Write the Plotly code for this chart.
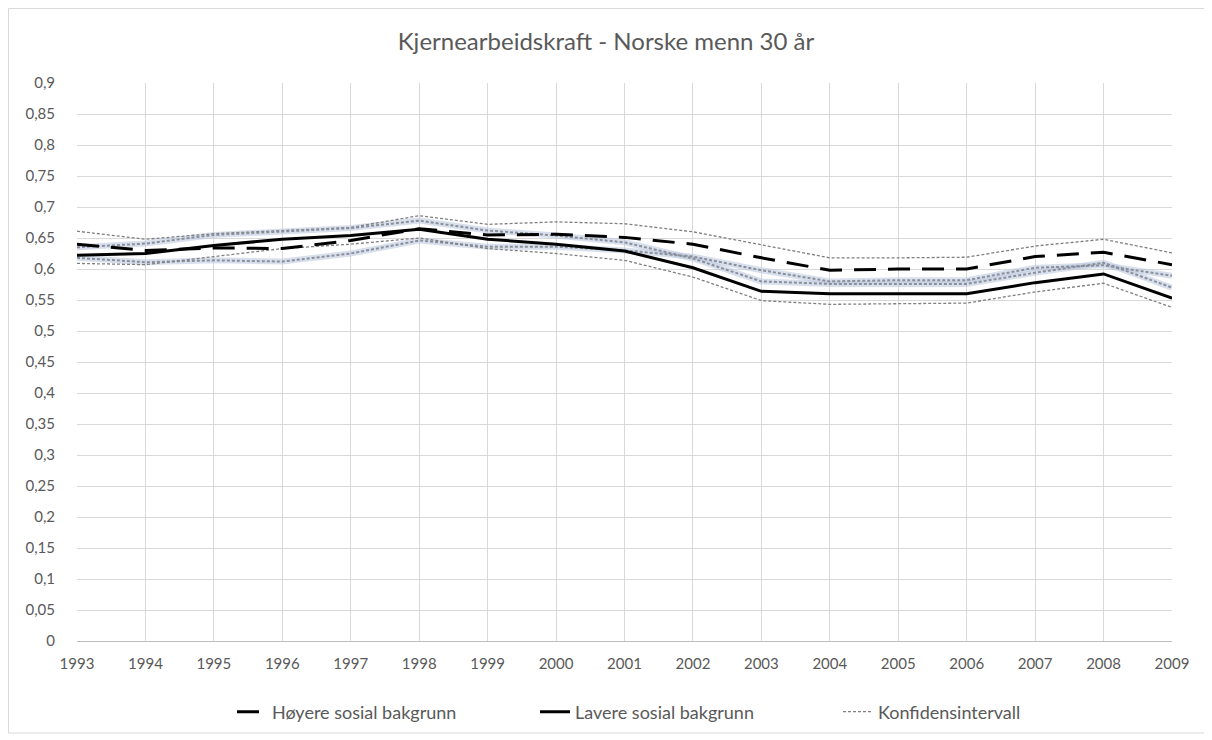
import plotly.graph_objects as go

years = [1993, 1994, 1995, 1996, 1997, 1998, 1999, 2000, 2001, 2002, 2003, 2004, 2005, 2006, 2007, 2008, 2009]
hoyere = [0.640, 0.630, 0.634, 0.633, 0.646, 0.665, 0.655, 0.656, 0.651, 0.640, 0.618, 0.598, 0.600, 0.600, 0.620, 0.627, 0.607]
lavere = [0.622, 0.625, 0.638, 0.648, 0.654, 0.664, 0.648, 0.640, 0.629, 0.602, 0.564, 0.560, 0.560, 0.560, 0.578, 0.592, 0.553]
hoyere_upper = [0.661, 0.648, 0.657, 0.662, 0.667, 0.686, 0.672, 0.676, 0.673, 0.660, 0.639, 0.618, 0.618, 0.619, 0.637, 0.648, 0.626]
hoyere_lower = [0.618, 0.611, 0.614, 0.612, 0.625, 0.646, 0.636, 0.636, 0.630, 0.620, 0.598, 0.580, 0.582, 0.582, 0.602, 0.606, 0.589]
lavere_upper = [0.635, 0.641, 0.655, 0.660, 0.666, 0.678, 0.662, 0.654, 0.643, 0.617, 0.580, 0.576, 0.576, 0.576, 0.594, 0.610, 0.570]
lavere_lower = [0.609, 0.607, 0.620, 0.633, 0.640, 0.650, 0.633, 0.625, 0.614, 0.587, 0.549, 0.543, 0.544, 0.545, 0.563, 0.577, 0.538]

y_tickvals = [0, 0.05, 0.1, 0.15, 0.2, 0.25, 0.3, 0.35, 0.4, 0.45, 0.5, 0.55, 0.6, 0.65, 0.7, 0.75, 0.8, 0.85, 0.9]
y_ticktext = ["0", "0,05", "0,1", "0,15", "0,2", "0,25", "0,3", "0,35", "0,4", "0,45", "0,5", "0,55", "0,6", "0,65", "0,7", "0,75", "0,8", "0,85", "0,9"]
x_ticktext = [str(y) for y in years]

title = "Kjernearbeidskraft - Norske menn 30 år"
name_h = "Høyere sosial bakgrunn"
name_l = "Lavere sosial bakgrunn"
name_ci = "Konfidensintervall"

FONT = "Lato"
TXT = "#595959"

# page is offset by the 8px body margin
W, H = 1204, 732
PL, PR, PT, PB = 77, 1172, 83, 641  # plot area in page pixels
OFF = 8


def px_to_paper_x(px):
    return (px - PL) / (PR - PL)


def px_to_paper_y(py):
    return (PB - py) / (PB - PT)


fig = go.Figure()

# soft glow beneath the inner CI lines
for ser in [hoyere_lower, lavere_upper]:
    fig.add_trace(go.Scatter(x=years, y=ser, mode="lines", showlegend=False, hoverinfo="skip",
                             line=dict(color="rgba(185,198,222,0.55)", width=6)))

ci_series = [hoyere_upper, hoyere_lower, lavere_upper, lavere_lower]
ci_widths = [1.3, 2.0, 2.0, 1.3]
ci_colors = ["#7f7f7f", "#8a8f99", "#8a8f99", "#7f7f7f"]
for i, ser in enumerate(ci_series):
    fig.add_trace(go.Scatter(x=years, y=ser, mode="lines", name=name_ci,
                             showlegend=False, legendgroup="ci",
                             line=dict(color=ci_colors[i], width=ci_widths[i], dash="3px,2px")))

fig.add_trace(go.Scatter(x=years, y=hoyere, mode="lines", name=name_h, legendrank=1,
                         line=dict(color="#000000", width=3, dash="22px,12px")))
fig.add_trace(go.Scatter(x=years, y=lavere, mode="lines", name=name_l, legendrank=2,
                         line=dict(color="#000000", width=3)))
fig.add_trace(go.Scatter(x=[None], y=[None], mode="lines", name=name_ci, legendrank=3,
                         line=dict(color="#7f7f7f", width=1.2, dash="3px,2px")))

fig.update_layout(
    width=W, height=H,
    paper_bgcolor="white", plot_bgcolor="white",
    margin=dict(l=PL - OFF, r=W - (PR - OFF), t=PT - OFF, b=H - (PB - OFF), autoexpand=False),
    title=dict(text=title, x=(606 - OFF) / W, xref="container", xanchor="center",
               y=1 - (42 - OFF) / H, yanchor="middle",
               font=dict(family=FONT, size=24, color=TXT)),
    font=dict(family=FONT, size=15, color=TXT),
    showlegend=True,
    legend=dict(orientation="h", x=px_to_paper_x(232), xanchor="left",
                y=px_to_paper_y(712), yanchor="middle",
                font=dict(family=FONT, size=18, color=TXT),
                entrywidth=258, entrywidthmode="pixels",
                traceorder="normal", bgcolor="rgba(0,0,0,0)"),
    xaxis=dict(range=[1993, 2009], tickvals=years, ticktext=x_ticktext, showgrid=True,
               gridcolor="#d9d9d9", gridwidth=1, zeroline=False, showline=True,
               linecolor="#bfbfbf", linewidth=1, ticks="", ticklabelstandoff=9,
               tickfont=dict(family=FONT, size=15, color=TXT)),
    yaxis=dict(range=[0, 0.9], tickvals=y_tickvals, ticktext=y_ticktext, showgrid=True,
               gridcolor="#d9d9d9", gridwidth=1, zeroline=False, showline=False, ticks="",
               ticklabelstandoff=21, tickfont=dict(family=FONT, size=15, color=TXT)),
    shapes=[dict(type="rect", xref="paper", yref="paper",
                 x0=px_to_paper_x(8.5), x1=px_to_paper_x(1205),
                 y0=px_to_paper_y(733), y1=px_to_paper_y(8.5),
                 line=dict(color="#d9d9d9", width=1), fillcolor="rgba(0,0,0,0)", layer="below")],
)

fig.write_html("out.html")
